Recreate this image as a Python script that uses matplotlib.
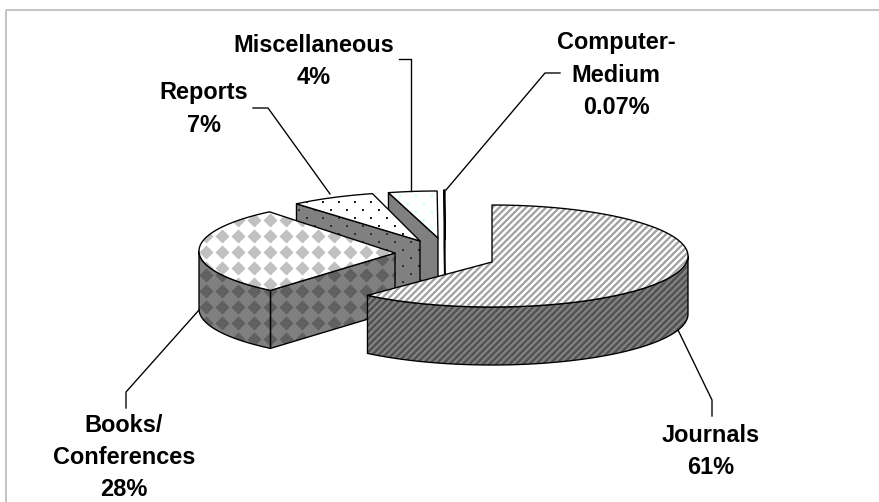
import numpy as np
import matplotlib
matplotlib.use("Agg")
import matplotlib.pyplot as plt
from matplotlib.collections import LineCollection
from matplotlib.patches import Polygon, Rectangle

# ---- data ----
categories = ["Journals", "Books/\nConferences", "Reports", "Miscellaneous", "Computer-\nMedium"]
values = [61, 28, 7, 4, 0.07]
value_labels = ["61%", "28%", "7%", "4%", "0.07%"]

# ---- layout (pixels) ----
W, H, DPI = 879, 502, 120
RX, RY, DEPTH = 196, 51, 58
centers = [(492, 256), (395, 251), (422, 243), (438, 242), (445, 241)]
apexes = [(492, 262), (395, 253), (420, 241), (438, 238), (445, 240)]
label_pos = [(711, 451), (124, 458), (204, 109), (314, 61), (616, 75)]
leaders = [
    [(678, 330), (712, 400), (712, 416)],
    [(199, 310), (126, 392), (126, 408)],
    [(253, 108), (268, 108), (330, 194)],
    [(399, 59), (411, 59), (411, 191)],
    [(446, 190), (545, 73), (560, 73)],
]
GRAY = "#808080"

fig = plt.figure(figsize=(W / DPI, H / DPI), dpi=DPI, facecolor="white")
ax = fig.add_axes([0, 0, 1, 1])
ax.set_xlim(0, W)
ax.set_ylim(H, 0)
ax.axis("off")
PX = 72 / DPI
LW = 1.35 * PX

ax.add_patch(Rectangle((6, 10), W + 10, H + 10, fill=False, ec="#c4c4c4", lw=2 * PX))


def rim(c, a, b):
    t = np.radians(np.linspace(a, b, max(2, int(abs(b - a)) + 2)))
    return np.c_[c[0] + RX * np.sin(t), c[1] - RY * np.cos(t)]


def grid(x0, y0, step_x, step_y, stagger):
    pts = []
    for j in range(-40, 41):
        off = (step_x / 2 if (j % 2 and stagger) else 0)
        for i in range(-40, 41):
            pts.append((x0 + i * step_x + off, y0 + j * step_y))
    return np.array(pts)


def fill(pts, style, top, z):
    base = "white" if top else GRAY
    p = Polygon(pts, fc=base, ec="none", zorder=z)
    ax.add_patch(p)
    if style == "stripes":
        period = 6.67
        segs = [[(x0, 500), (x0 + 500, 0)] for x0 in np.arange(-200, 900, period)]
        lc = LineCollection(segs, colors="#a2a2a2" if top else "#505050",
                            linewidths=2.3 * PX, zorder=z)
        ax.add_collection(lc)
        lc.set_clip_path(p)
    else:
        g = None
        if style == "diamonds":
            g = grid(270, 220 if top else 275, 16, 16, False)
            col, s, m = ("#c0c0c0" if top else "#606060"), (10 * PX) ** 2, "D"
        elif style == "dots":
            g = grid(323, 202, 16, 8, True)
            col, s, m = ("#202020" if top else "#303030"), (2.2 * PX) ** 2, "s"
        elif style == "light" and top:
            g = grid(328, 204, 16, 8, True)
            col, s, m = "#c8ffff", (2.2 * PX) ** 2, "s"
        if g is not None:
            sc = ax.scatter(g[:, 0], g[:, 1], s=s, marker=m, c=col, linewidths=0, zorder=z)
            sc.set_clip_path(p)
    ax.add_patch(Polygon(pts, fill=False, ec="black", lw=LW, joinstyle="round", zorder=z))


styles = ["stripes", "diamonds", "dots", "light", "plain"]
angles = np.cumsum([0] + values) / np.sum(values) * 360

for k in range(len(values) - 1, -1, -1):
    a, b = angles[k], angles[k + 1]
    c, ap = centers[k], apexes[k]
    z = 10 + (len(values) - k) * 3
    # cut face at the starting angle
    if 180 < a < 360:
        e = rim(c, a, a)[0]
        face = [ap, e, (e[0], e[1] + DEPTH), (ap[0], ap[1] + DEPTH)]
        fill(face, styles[k], False, z)
    # outer wall, front half only
    lo, hi = max(a, 90), min(b, 270)
    if lo < hi:
        r = rim(c, lo, hi)
        wall = np.vstack([r, (r + [0, DEPTH])[::-1]])
        fill(wall, styles[k], False, z + 1)
    # top face
    fill(np.vstack([[ap], rim(c, a, b)]), styles[k], True, z + 2)

for k, pts in enumerate(leaders):
    xs, ys = zip(*pts)
    ax.plot(xs, ys, color="black", lw=LW, zorder=40)
    ax.text(label_pos[k][0], label_pos[k][1], categories[k] + "\n" + value_labels[k],
            ha="center", va="center", family="Liberation Sans", weight="bold",
            fontsize=23.5 * PX, linespacing=1.5, color="black", zorder=41)

fig.savefig("out.png", dpi=DPI)
